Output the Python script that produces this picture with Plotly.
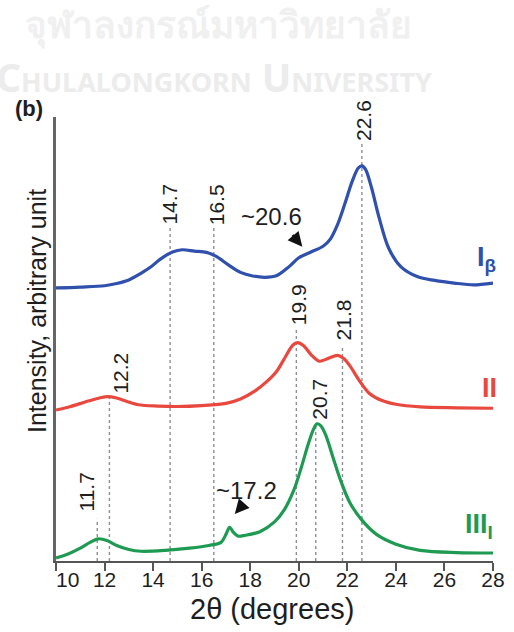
import plotly.graph_objects as go

# ---- diffraction traces (2θ in degrees, intensity in arbitrary units, stacked) ----
ib_x = [10, 11, 12, 12.5, 13, 13.5, 13.9, 14.3, 14.8, 15.2, 15.7, 16.2, 16.6, 17.1, 17.6,
        18.1, 18.6, 19.1, 19.6, 20.0, 20.5, 21.0, 21.3, 21.6, 21.9, 22.2, 22.45, 22.6, 22.75,
        23.0, 23.3, 23.7, 24.2, 24.9, 25.6, 26.4, 27.2, 28]
ib_y = [61.5, 61.7, 62.0, 62.5, 63.3, 64.8, 66.2, 68.0, 69.6, 70.1, 69.8, 69.5, 68.6, 66.7, 65.0,
        64.2, 63.9, 64.3, 66.3, 68.3, 69.6, 70.9, 72.5, 75.8, 80.5, 85.5, 88.5, 89.0, 88.2,
        84.0, 77.5, 70.5, 66.3, 64.0, 63.2, 62.6, 62.2, 62.6]

ii_x = [10, 10.6, 11.2, 11.7, 12.1, 12.5, 12.9, 13.4, 14.2, 15, 16, 17, 17.6, 18.2, 18.7, 19.1,
        19.45, 19.75, 19.95, 20.2, 20.5, 20.85, 21.2, 21.6, 21.85, 22.1, 22.5, 22.9, 23.4, 24,
        25, 26.5, 28]
ii_y = [34.0, 34.8, 35.8, 36.6, 37.0, 36.7, 36.0, 35.2, 34.9, 34.8, 35.0, 35.5, 36.5, 38.3, 40.5,
        42.8, 46.0, 48.6, 49.2, 48.5, 46.5, 45.0, 45.6, 46.3, 45.6, 44.0, 40.6, 37.8, 36.2, 35.3,
        34.7, 34.5, 34.4]

iii_x = [10, 10.5, 11.0, 11.4, 11.75, 12.1, 12.5, 13, 13.5, 14.5, 15.5, 16.3, 16.8, 17.0, 17.15,
         17.3, 17.5, 17.8, 18.4, 19.0, 19.4, 19.8, 20.1, 20.4, 20.6, 20.75, 20.9, 21.1, 21.4,
         21.7, 22.1, 22.6, 23.2, 24.0, 25.0, 26.5, 28]
iii_y = [0.7, 1.6, 2.9, 4.2, 5.0, 4.6, 3.5, 2.6, 2.2, 2.4, 2.9, 3.5, 4.2, 6.0, 7.6,
         6.5, 5.6, 5.8, 6.6, 8.8, 11.5, 16.0, 21.0, 26.5, 29.6, 30.9, 30.5, 28.5, 23.5,
         18.5, 13.2, 9.2, 6.0, 3.8, 2.4, 1.9, 1.8]

# marked reflections (2θ) and their labels
peak_pos = [22.6, 14.7, 16.5, 19.9, 21.8, 20.7, 12.2, 11.7]
peak_txt = ["22.6", "14.7", "16.5", "19.9", "21.8", "20.7", "12.2", "11.7"]
shoulder_pos = [20.6, 17.2]
shoulder_txt = ["~20.6", "~17.2"]

x_ticks = [10, 12, 14, 16, 18, 20, 22, 24, 26, 28]
series_names = ["I<sub>β</sub>", "II", "III<sub>I</sub>"]

# ---- styling / placement ----
W, H = 514, 632
X0, X1 = 56, 493          # plot area, px
Y0, Y1 = 117, 561
FONT = "Liberation Sans, Arial, sans-serif"
BLUE, RED, GREEN = "#2f50ad", "#e8483e", "#1f9a52"
INK = "#1e1e1e"

# guide top (y units) and label centre (y units, x shift px) for each marked reflection
guide_top = [94.5, 75.5, 75.5, 52.5, 48.5, 31.0, 37.5, 9.5]
label_y = [99.3, 80.3, 80.3, 57.7, 54.3, 36.5, 42.3, 15.5]
label_dx = [1, -1, 3, 2, 1, 4, 11, -11]


def paper(px, py):
    return dict(x=px / W, y=1 - py / H, xref="paper", yref="paper",
                xanchor="center", yanchor="middle")


fig = go.Figure()

for p, top in zip(peak_pos, guide_top):
    fig.add_trace(go.Scatter(
        x=[p, p], y=[0, top], mode="lines",
        line=dict(color="#8a8f96", width=1.4, dash="3px,3px"),
        hoverinfo="skip", showlegend=False))

for xs, ys, col in [(ib_x, ib_y, BLUE), (ii_x, ii_y, RED), (iii_x, iii_y, GREEN)]:
    fig.add_trace(go.Scatter(
        x=xs, y=ys, mode="lines",
        line=dict(color=col, width=3.2, shape="spline", smoothing=0.9),
        showlegend=False))

# faint institutional watermark across the top strip (clipped at its lower edge)
fig.add_trace(go.Scatter(
    x=[218, 214], y=[29, 82], mode="text",
    text=["<b>จุฬาลงกรณ์มหาวิทยาลัย</b>",
          "<b>C<span style='font-size:27px'>HULALONGKORN</span> "
          "U<span style='font-size:27px'>NIVERSITY</span></b>"],
    textfont=dict(family="Noto Sans, DejaVu Sans, sans-serif",
                  size=[37, 39], color=["#f0f0f0", "#ececec"]),
    textposition="middle center", cliponaxis=True,
    xaxis="x2", yaxis="y2", hoverinfo="skip", showlegend=False))

ann = []
for p, t, yy, dx in zip(peak_pos, peak_txt, label_y, label_dx):
    ann.append(dict(x=p, y=yy, xref="x", yref="y", text=t, textangle=-90,
                    showarrow=False, xshift=dx,
                    font=dict(family=FONT, size=21, color=INK)))

# shoulder labels with short arrows
ann.append(dict(x=shoulder_pos[0], y=77.6, xref="x", yref="y", text=shoulder_txt[0],
                showarrow=False, xshift=-42, font=dict(family=FONT, size=24, color=INK)))
ann.append(dict(x=shoulder_pos[0], y=70.8, xref="x", yref="y", text="", showarrow=True,
                ax=-11, ay=-13, xshift=-11, arrowhead=2, arrowsize=1.1, arrowwidth=2.6,
                arrowcolor="#111"))
ann.append(dict(x=shoulder_pos[1], y=15.8, xref="x", yref="y", text=shoulder_txt[1],
                showarrow=False, xshift=16, font=dict(family=FONT, size=24, color=INK)))
ann.append(dict(x=shoulder_pos[1], y=10.6, xref="x", yref="y", text="", showarrow=True,
                ax=7, ay=-8, xshift=4, arrowhead=2, arrowsize=1.1, arrowwidth=2.6,
                arrowcolor="#111"))

# series names at the right end of each trace
for name, col, pos in zip(series_names, [BLUE, RED, GREEN],
                          [(486, 259), (489, 388), (479, 526)]):
    ann.append(dict(**paper(*pos), text="<b>" + name + "</b>", showarrow=False,
                    font=dict(family=FONT, size=27, color=col)))

# panel tag and axis titles
ann.append(dict(**paper(29, 108), text="<b>(b)</b>", showarrow=False,
                font=dict(family=FONT, size=22, color=INK)))
ann.append(dict(**paper(272, 609), text="2θ (degrees)", showarrow=False,
                font=dict(family=FONT, size=29, color=INK)))
ann.append(dict(**paper(37, 311), text="Intensity, arbitrary unit", textangle=-90,
                showarrow=False, font=dict(family=FONT, size=25, color=INK)))

tick_text = ["\u00a0\u00a0\u00a0\u00a010"] + [str(v) for v in x_ticks[1:]]

fig.update_layout(
    width=W, height=H, margin=dict(l=0, r=0, t=0, b=0),
    paper_bgcolor="white", plot_bgcolor="white",
    annotations=ann,
    xaxis=dict(domain=[X0 / W, X1 / W], range=[10, 28], tickvals=x_ticks, ticktext=tick_text,
               ticks="outside", ticklen=8, tickwidth=2, tickcolor="#555",
               ticklabelstandoff=-9,
               showline=True, linecolor="#555", linewidth=2,
               showgrid=False, zeroline=False, automargin=False,
               tickfont=dict(family=FONT, size=21, color=INK)),
    yaxis=dict(domain=[1 - Y1 / H, 1 - Y0 / H], range=[0, 100],
               showline=True, linecolor="#666", linewidth=2.5,
               showticklabels=False, ticks="", showgrid=False, zeroline=False,
               automargin=False),
    xaxis2=dict(domain=[0, 1], range=[0, W], visible=False, anchor="y2"),
    yaxis2=dict(domain=[1 - 97 / H, 1], range=[97, 0], visible=False, anchor="x2"),
)

fig.write_html("out.html")
